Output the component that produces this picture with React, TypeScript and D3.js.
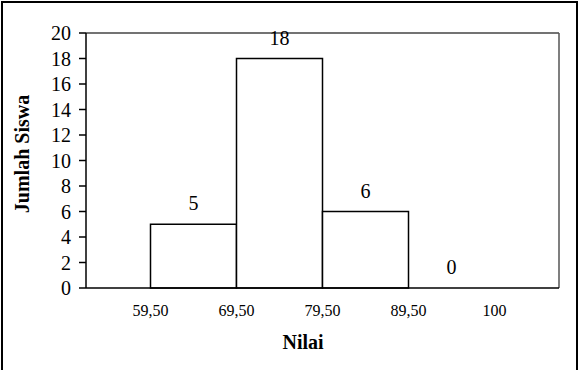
import React from "react";
import * as d3 from "d3";

const binStarts = [59.5, 69.5, 79.5, 89.5];
const binEnds = [69.5, 79.5, 89.5, 99.5];
const counts = [5, 18, 6, 0];
const xTickValues = [59.5, 69.5, 79.5, 89.5, 99.5];
const xTickLabels = ["59,50", "69,50", "79,50", "89,50", "100"];
const yTickValues = [0, 2, 4, 6, 8, 10, 12, 14, 16, 18, 20];
const xTitle = "Nilai";
const yTitle = "Jumlah Siswa";

const W = 584;
const H = 370;
const plot = { left: 86, right: 559, top: 33, bottom: 288 };
const font = "'Liberation Serif', 'Times New Roman', serif";

export default function App() {
  const x = d3.scaleLinear().domain([52, 107]).range([plot.left, plot.right]);
  const y = d3.scaleLinear().domain([0, 20]).range([plot.bottom, plot.top]);

  return (
    <svg
      width={W}
      height={H}
      style={{ position: "absolute", left: 0, top: 0, background: "#fff" }}
      fontFamily={font}
    >
      <rect x={0} y={0} width={W} height={H} fill="#fff" />
      {/* outer frame */}
      <rect x={2} y={2} width={575} height={380} fill="none" stroke="#000" strokeWidth={2} />

      {/* plot frame top/right */}
      <line x1={plot.left} x2={plot.right} y1={plot.top} y2={plot.top} stroke="#444" strokeWidth={1.5} />
      <line x1={plot.right} x2={plot.right} y1={plot.top} y2={plot.bottom} stroke="#555" strokeWidth={1.5} />

      {/* bars */}
      {counts.map((c, i) =>
        c > 0 ? (
          <rect
            key={"b" + i}
            x={x(binStarts[i])}
            y={y(c)}
            width={x(binEnds[i]) - x(binStarts[i])}
            height={y(0) - y(c)}
            fill="#fff"
            stroke="#000"
            strokeWidth={1.5}
          />
        ) : null
      )}

      {/* data labels */}
      {counts.map((c, i) => (
        <text
          key={"l" + i}
          x={x((binStarts[i] + binEnds[i]) / 2)}
          y={y(c) - 14}
          textAnchor="middle"
          fontSize={20}
          fill="#000"
        >
          {c}
        </text>
      ))}

      {/* axes */}
      <line x1={plot.left} x2={plot.left} y1={plot.top} y2={plot.bottom} stroke="#000" strokeWidth={1.5} />
      <line x1={plot.left} x2={plot.right} y1={plot.bottom} y2={plot.bottom} stroke="#000" strokeWidth={1.5} />

      {yTickValues.map((v) => (
        <g key={"yt" + v}>
          <line x1={plot.left - 7} x2={plot.left} y1={y(v)} y2={y(v)} stroke="#000" strokeWidth={1.5} />
          <text x={71} y={y(v)} dy="0.35em" textAnchor="end" fontSize={20} fill="#000">
            {v}
          </text>
        </g>
      ))}

      {xTickValues.map((v, i) => (
        <text key={"xt" + i} x={x(v)} y={316} textAnchor="middle" fontSize={16} fill="#000">
          {xTickLabels[i]}
        </text>
      ))}

      <text x={303} y={349} textAnchor="middle" fontSize={20} fontWeight="bold" fill="#000">
        {xTitle}
      </text>
      <text
        transform="translate(29,154) rotate(-90)"
        textAnchor="middle"
        fontSize={20}
        fontWeight="bold"
        fill="#000"
      >
        {yTitle}
      </text>
    </svg>
  );
}
